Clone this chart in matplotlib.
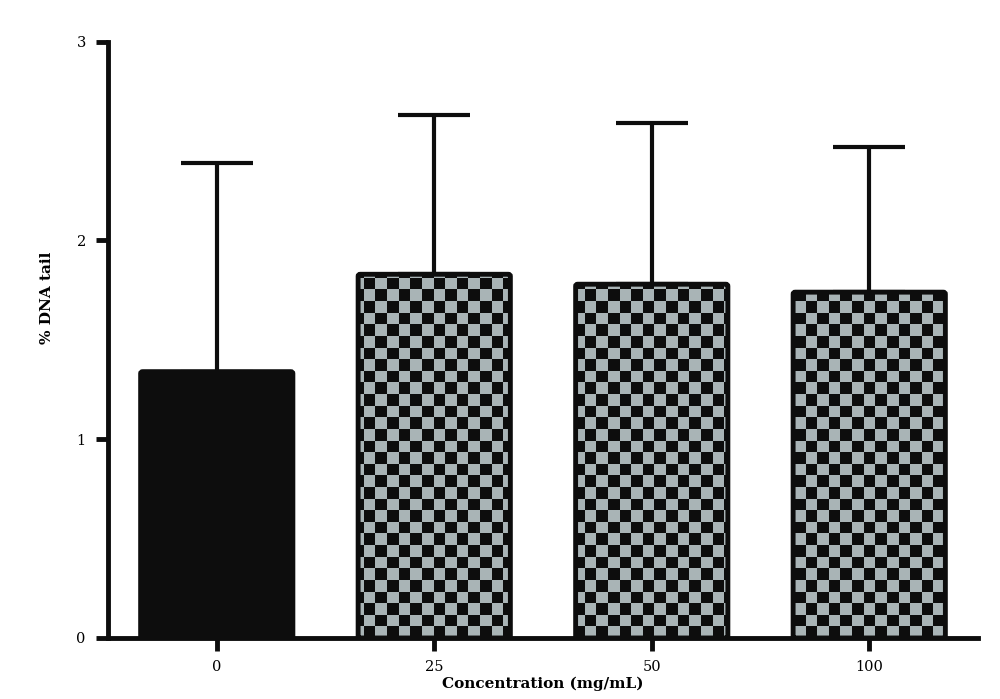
import numpy as np
import matplotlib.pyplot as plt
from matplotlib.patches import FancyBboxPatch

# data
categories = ['0', '25', '50', '100']
means = [1.34, 1.83, 1.78, 1.74]
upper_err = [1.05, 0.80, 0.81, 0.73]
fills = ['solid', 'checker', 'checker', 'checker']

plt.rcParams['font.family'] = ['DejaVu Serif']

fig = plt.figure(figsize=(10, 6.99), dpi=100)
ax = fig.add_axes([0.108, 0.0873, 0.870, 0.853])

x = np.arange(len(categories))
width = 0.70
ink = '#0d0d0d'
gray = '#a9b4b6'

ax.set_xlim(-0.5, 3.5)
ax.set_ylim(0, 3)

# error bars (upper only), drawn behind the bars
ax.errorbar(x, means, yerr=[np.zeros(len(x)), upper_err], fmt='none',
            ecolor=ink, elinewidth=3, capsize=26, capthick=3, zorder=1)

# checkerboard texture spanning the axes, clipped to each bar
sq_x, sq_y = 11.6 / 217.0, 11.6 / 198.7
nx = int(np.ceil(4.0 / sq_x))
ny = int(np.ceil(3.0 / sq_y))
ii, jj = np.indices((ny, nx))
checker = ((ii + jj) % 2).astype(float)
cmap = plt.matplotlib.colors.ListedColormap([ink, gray])

for xi, m, f in zip(x, means, fills):
    rect = FancyBboxPatch((xi - width / 2, 0), width, m,
                          boxstyle='round,pad=0,rounding_size=0.01',
                          mutation_aspect=1.0,
                          facecolor=ink if f == 'solid' else 'none',
                          edgecolor=ink, linewidth=3.5, zorder=3)
    ax.add_patch(rect)
    if f == 'checker':
        x0 = -0.5
        im = ax.imshow(checker, cmap=cmap, interpolation='nearest',
                       extent=(x0, x0 + nx * sq_x, 0, ny * sq_y),
                       origin='lower', aspect='auto', zorder=2)
        im.set_clip_path(rect)

ax.set_xlim(-0.5, 3.5)
ax.set_ylim(0, 3)

ax.spines['top'].set_visible(False)
ax.spines['right'].set_visible(False)
for s in ['left', 'bottom']:
    ax.spines[s].set_linewidth(3.5)
    ax.spines[s].set_color(ink)

ax.set_xticks(x)
ax.set_xticklabels(categories)
ax.set_yticks([0, 1, 2, 3])
ax.tick_params(axis='both', direction='out', length=9, width=3.5,
               color=ink, labelsize=10.5, pad=7)

ax.set_xlabel('Concentration (mg/mL)', fontsize=11, fontweight='bold', labelpad=2)
ax.set_ylabel('% DNA tail', fontsize=11, fontweight='bold')
ax.yaxis.set_label_coords(-0.062, 0.57)

fig.savefig('out.png', dpi=100)
